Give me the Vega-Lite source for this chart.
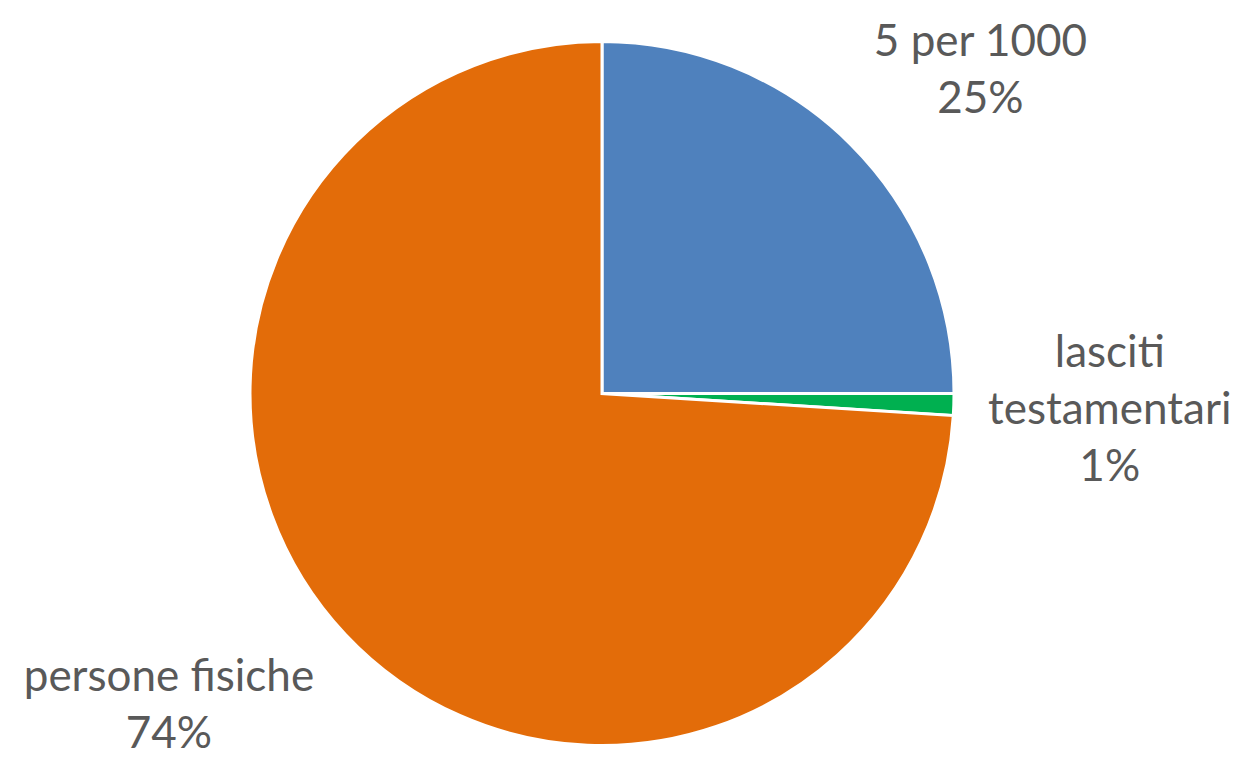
{
  "$schema": "https://vega.github.io/schema/vega-lite/v6.json",
  "autosize": {"type": "none"},
  "width": 1204,
  "height": 739,
  "padding": {"left": 0, "top": 24, "right": 30, "bottom": 0},
  "background": "white",
  "view": {"stroke": null},
  "data": {
    "values": [
      {"categoria": "5 per 1000", "valore": 25, "ordine": 1, "etichetta": "5 per 1000\n25%"},
      {"categoria": "lasciti testamentari", "valore": 1, "ordine": 2, "etichetta": "lasciti\ntestamentari\n1%"},
      {"categoria": "persone fisiche", "valore": 74, "ordine": 3, "etichetta": "persone fisiche\n74%"}
    ]
  },
  "encoding": {
    "theta": {"field": "valore", "type": "quantitative", "stack": true},
    "order": {"field": "ordine", "type": "quantitative"}
  },
  "layer": [
    {
      "mark": {"type": "arc", "outerRadius": 352, "stroke": "white", "strokeWidth": 3},
      "encoding": {
        "color": {
          "field": "categoria",
          "type": "nominal",
          "scale": {
            "domain": ["5 per 1000", "lasciti testamentari", "persone fisiche"],
            "range": ["#4F81BD", "#00B050", "#E36C09"]
          },
          "legend": null
        }
      }
    },
    {
      "mark": {"type": "text", "radius": 497, "dx": 27, "dy": 1, "font": "Lato", "fontSize": 44, "lineHeight": 57, "lineBreak": "\n", "color": "#595959"},
      "encoding": {
        "text": {"condition": {"test": "datum.categoria === '5 per 1000'", "field": "etichetta"}, "value": ""}
      }
    },
    {
      "mark": {"type": "text", "radius": 508, "dx": 0, "dy": -55, "font": "Lato", "fontSize": 44, "lineHeight": 57, "lineBreak": "\n", "color": "#595959"},
      "encoding": {
        "text": {"condition": {"test": "datum.categoria === 'lasciti testamentari'", "field": "etichetta"}, "value": ""}
      }
    },
    {
      "mark": {"type": "text", "radius": 520, "dx": -54, "dy": -71, "font": "Lato", "fontSize": 44, "lineHeight": 57, "lineBreak": "\n", "color": "#595959"},
      "encoding": {
        "text": {"condition": {"test": "datum.categoria === 'persone fisiche'", "field": "etichetta"}, "value": ""}
      }
    }
  ]
}
